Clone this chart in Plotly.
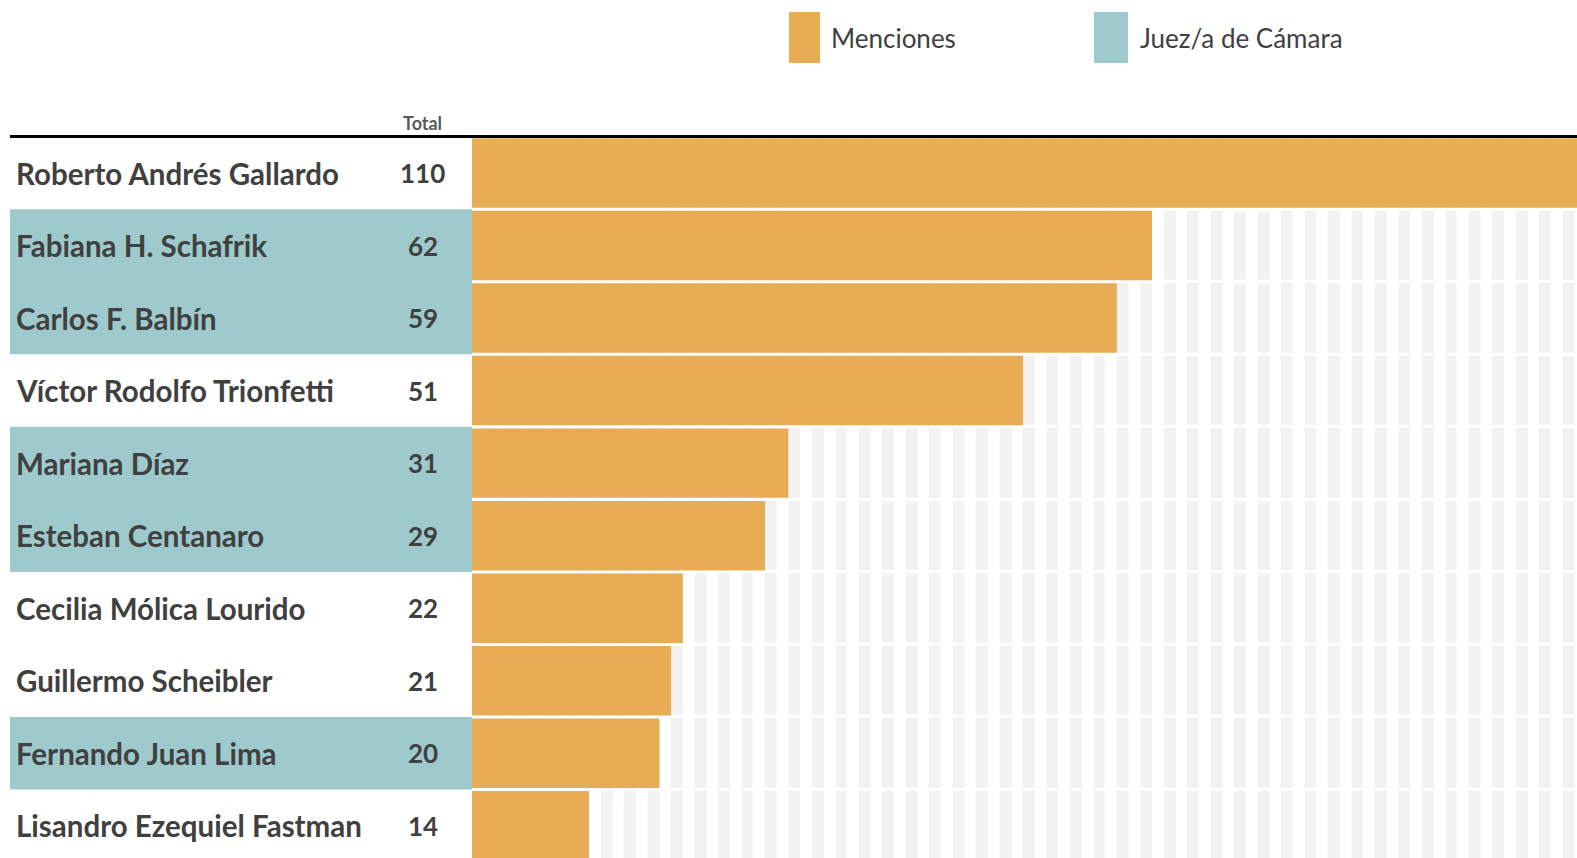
import plotly.graph_objects as go

# ---- data ----
names = [
    "Roberto Andrés Gallardo",
    "Fabiana H. Schafrik",
    "Carlos F. Balbín",
    "Víctor Rodolfo Trionfetti",
    "Mariana Díaz",
    "Esteban Centanaro",
    "Cecilia Mólica Lourido",
    "Guillermo Scheibler",
    "Fernando Juan Lima",
    "Lisandro Ezequiel Fastman",
]
menciones = [110, 62, 59, 51, 31, 29, 22, 21, 20, 14]
juez_camara = [False, True, True, False, True, True, False, False, True, False]
legend_labels = ["Menciones", "Juez/a de Cámara"]
total_label = "Total"

# ---- style ----
W, H = 1577, 858
ORANGE = "#e8ac54"
TEAL = "#9fcacd"
STRIPE = "#f2f2f2"
TEXT = "#404040"
FONT = "Lato"

# pixel geometry of the value axis
X0_PX, UNIT_PX = 424.8, 11.73
PLOT_LEFT_PX = 472
ROW0_PX, ROW_PITCH = 173.05, 72.52

x_range = [(PLOT_LEFT_PX - X0_PX) / UNIT_PX, (W - X0_PX) / UNIT_PX]
y_range = [(H - ROW0_PX) / ROW_PITCH, (0 - ROW0_PX) / ROW_PITCH]

fig = go.Figure()

# striped background (alternating grey / white unit columns per row)
n_cols = int(x_range[1]) + 1
stripe_x = [k + 0.5 for k in range(n_cols)]
stripe_z = [[1 if k % 2 == 1 else 0 for k in range(n_cols)] for _ in names]
fig.add_trace(go.Heatmap(
    x=stripe_x, y=names, z=stripe_z,
    colorscale=[[0, "#ffffff"], [1, STRIPE]],
    showscale=False, ygap=3, hoverinfo="skip", zmin=0, zmax=1,
))

fig.add_trace(go.Bar(
    x=menciones, y=names, orientation="h",
    width=0.958, marker=dict(color=ORANGE, line=dict(width=0)),
    name=legend_labels[0], showlegend=False,
))

shapes = []
annotations = []
# merge consecutive highlighted rows into single teal blocks
i = 0
while i < len(names):
    if juez_camara[i]:
        j = i
        while j + 1 < len(names) and juez_camara[j + 1]:
            j += 1
        shapes.append(dict(type="rect", xref="paper", yref="y",
                           x0=10 / W, x1=PLOT_LEFT_PX / W, y0=i - 0.5, y1=j + 0.5,
                           fillcolor=TEAL, line=dict(width=0), layer="below"))
        i = j + 1
    else:
        i += 1

for i, (nm, v) in enumerate(zip(names, menciones)):
    annotations.append(dict(xref="paper", yref="y", x=14 / W, y=i, text=nm,
                            xanchor="left", yanchor="middle", showarrow=False,
                            font=dict(family=FONT, size=29.5, color=TEXT, weight="bold")))
    annotations.append(dict(xref="paper", yref="y", x=422.5 / W, y=i, text=str(v),
                            xanchor="center", yanchor="middle", showarrow=False,
                            font=dict(family=FONT, size=26, color=TEXT, weight="bold")))

# top rule
shapes.append(dict(type="line", xref="paper", yref="paper",
                   x0=10 / W, x1=1, y0=1 - 136.5 / H, y1=1 - 136.5 / H,
                   line=dict(color="#000000", width=3)))

# "Total" header
annotations.append(dict(xref="paper", yref="paper", x=422.5 / W, y=1 - 123.5 / H,
                        text=total_label, xanchor="center", yanchor="middle", showarrow=False,
                        font=dict(family=FONT, size=18, color="#595959", weight="bold")))

# legend
for (bx0, bx1, tx, col, lab) in [(789, 820, 829, ORANGE, legend_labels[0]),
                                  (1094, 1128, 1138, TEAL, legend_labels[1])]:
    shapes.append(dict(type="rect", xref="paper", yref="paper",
                       x0=bx0 / W, x1=bx1 / W, y0=1 - 63 / H, y1=1 - 12 / H,
                       fillcolor=col, line=dict(width=0)))
    annotations.append(dict(xref="paper", yref="paper", x=tx / W, y=1 - 38 / H,
                            text=lab, xanchor="left", yanchor="middle", showarrow=False,
                            font=dict(family=FONT, size=26, color=TEXT)))

fig.update_layout(
    width=W, height=H,
    margin=dict(l=0, r=0, t=0, b=0),
    paper_bgcolor="white", plot_bgcolor="white",
    showlegend=False,
    shapes=shapes, annotations=annotations,
    xaxis=dict(domain=[PLOT_LEFT_PX / W, 1], range=x_range, showgrid=False,
               zeroline=False, showticklabels=False, ticks="", fixedrange=True),
    yaxis=dict(type="category", categoryorder="array", categoryarray=names,
               range=y_range, showgrid=False, zeroline=False,
               showticklabels=False, ticks="", fixedrange=True),
)

fig.write_html(
    "out.html",
    config={"displayModeBar": False},
    post_script="document.body.style.margin='0';document.body.style.overflow='hidden';",
)
